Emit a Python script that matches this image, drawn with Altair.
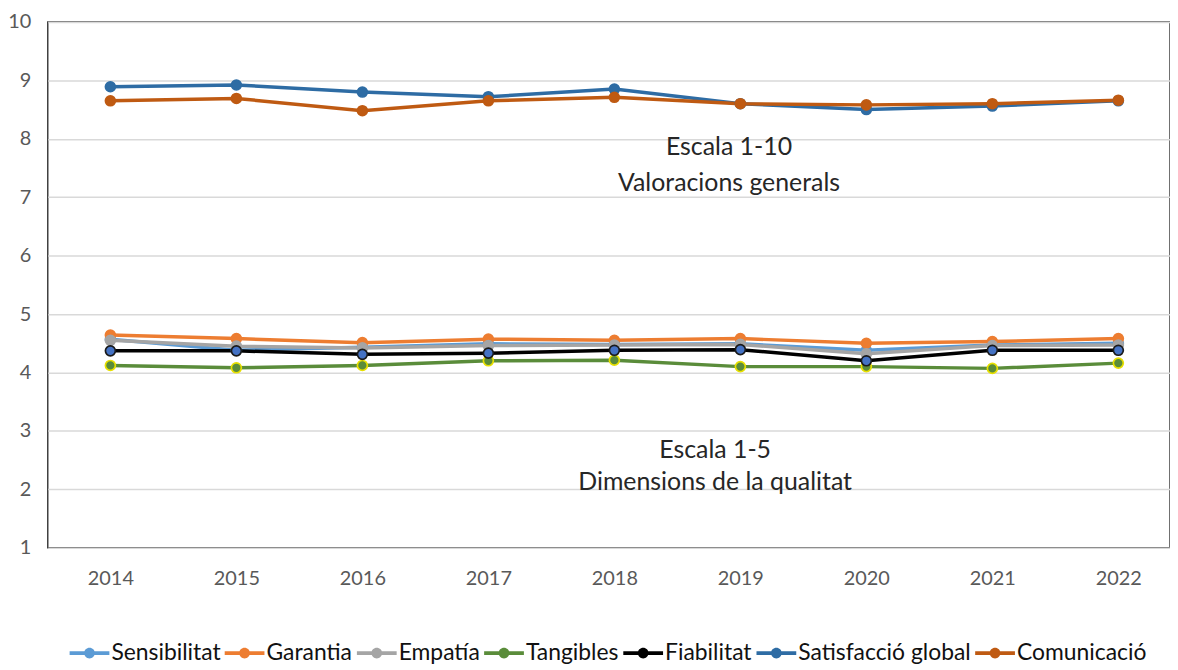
import altair as alt
import pandas as pd

years = [2014, 2015, 2016, 2017, 2018, 2019, 2020, 2021, 2022]

series_names = ["Sensibilitat", "Garantia", "Empatía", "Tangibles",
                "Fiabilitat", "Satisfacció global", "Comunicació"]

sensibilitat = [4.57, 4.38, 4.43, 4.49, 4.48, 4.49, 4.38, 4.47, 4.50]
garantia = [4.64, 4.58, 4.51, 4.57, 4.55, 4.58, 4.50, 4.53, 4.58]
empatia = [4.55, 4.45, 4.42, 4.46, 4.47, 4.48, 4.32, 4.46, 4.47]
tangibles = [4.12, 4.08, 4.12, 4.20, 4.21, 4.10, 4.10, 4.07, 4.16]
fiabilitat = [4.37, 4.37, 4.31, 4.33, 4.38, 4.39, 4.20, 4.38, 4.38]
satisfaccio = [8.89, 8.92, 8.80, 8.72, 8.85, 8.60, 8.50, 8.56, 8.65]
comunicacio = [8.65, 8.69, 8.48, 8.65, 8.71, 8.60, 8.58, 8.60, 8.66]

line_colors = ["#5b9bd5", "#ed7d31", "#a5a5a5", "#5a8c3a", "#000000", "#2e6ca4", "#bf5a12"]
dot_fill = ["#5b9bd5", "#ed7d31", "#a5a5a5", "#5a8c3a", "#4472c4", "#2e6ca4", "#bf5a12"]
dot_stroke = ["#5b9bd5", "#ed7d31", "#a5a5a5", "#e8e000", "#1a1a1a", "#2e6ca4", "#bf5a12"]

ann_text = ["Escala 1-10", "Valoracions generals", "Escala 1-5", "Dimensions de la qualitat"]
ann_x = [2018.91, 2018.91, 2018.80, 2018.80]
ann_y = [7.85, 7.25, 2.68, 2.12]

y_ticks = [1, 2, 3, 4, 5, 6, 7, 8, 9, 10]

values = [sensibilitat, garantia, empatia, tangibles, fiabilitat, satisfaccio, comunicacio]
rows = []
for i, (name, vals) in enumerate(zip(series_names, values)):
    for yr, v in zip(years, vals):
        rows.append({"serie": name, "idx": i, "any": yr, "valor": v})
df = pd.DataFrame(rows)
ann = pd.DataFrame({"t": ann_text, "x": ann_x, "y": ann_y})

FONT = "Lato"
xscale = alt.Scale(domain=[2013.503, 2022.41], nice=False, zero=False)
yscale = alt.Scale(domain=[1, 10], nice=False, zero=False)

x_enc = alt.X("any:Q", scale=xscale,
              axis=alt.Axis(values=years, format="d", title=None, grid=False, ticks=False,
                            domain=False, labelFontSize=20, labelColor="#595959",
                            labelFont=FONT, labelPadding=21))
y_enc = alt.Y("valor:Q", scale=yscale,
              axis=alt.Axis(values=y_ticks, format="d", title=None, grid=True, gridColor="#d9d9d9",
                            gridWidth=1.5, ticks=False, domain=False, labelFontSize=20,
                            labelColor="#595959", labelFont=FONT, labelPadding=17))

base = alt.Chart(df)

lines = base.mark_line(strokeWidth=3.5).encode(
    x=x_enc, y=y_enc,
    color=alt.Color("serie:N", scale=alt.Scale(domain=series_names, range=line_colors), legend=None),
    detail="idx:O",
)

dots = base.mark_point(filled=True, size=100, strokeWidth=1.7, opacity=1).encode(
    x=alt.X("any:Q", scale=xscale),
    y=alt.Y("valor:Q", scale=yscale),
    fill=alt.Fill("serie:N", scale=alt.Scale(domain=series_names, range=dot_fill), legend=None),
    stroke=alt.Stroke("serie:N", scale=alt.Scale(domain=series_names, range=dot_stroke), legend=None),
    order="idx:Q",
)

sym_path = ("M-1,-0.09L1,-0.09L1,0.09L-1,0.09Z "
            "M-0.27,0A0.27,0.27,0,1,1,0.27,0A0.27,0.27,0,1,1,-0.27,0Z")

legend_layer = alt.Chart(df).transform_filter("false").mark_point(filled=True, opacity=1).encode(
    x=alt.X("any:Q", scale=xscale),
    y=alt.Y("valor:Q", scale=yscale),
    fill=alt.Fill("serie:N", scale=alt.Scale(domain=series_names, range=line_colors),
                  legend=alt.Legend(orient="none", legendX=22, legendY=615, direction="horizontal",
                                    title=None, symbolType=sym_path, symbolSize=1600,
                                    symbolStrokeWidth=0, labelFontSize=23, labelFont=FONT,
                                    labelColor="#111111", columnPadding=4, labelOffset=2,
                                    labelLimit=400, columns=7)),
)

texts = alt.Chart(ann).mark_text(fontSize=25, font=FONT, color="#262626", baseline="middle",
                                 align="center").encode(
    x=alt.X("x:Q", scale=xscale),
    y=alt.Y("y:Q", scale=yscale),
    text="t:N",
)

chart = alt.layer(lines, dots, legend_layer, texts).resolve_scale(
    fill="independent"
).properties(
    width=1129, height=529,
    autosize=alt.AutoSizeParams(type="none"),
    padding={"left": 40, "top": 12, "right": 0, "bottom": 121},
    background="white",
).configure_view(stroke="#404040", strokeWidth=1.5)

chart.save("out.html", embed_options={"renderer": "svg", "actions": False})
